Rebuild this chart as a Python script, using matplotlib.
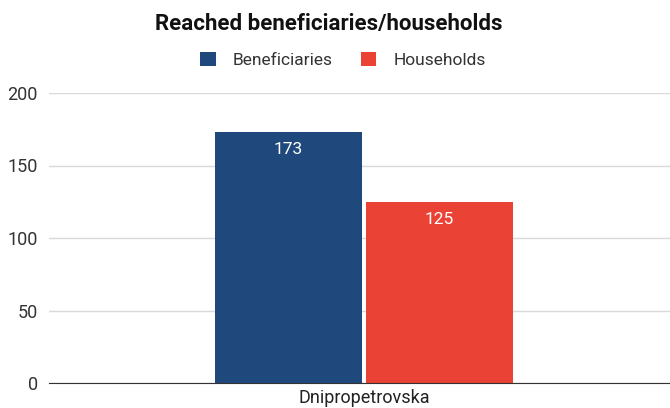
import numpy as np
import matplotlib
matplotlib.use("Agg")
import matplotlib.pyplot as plt

plt.rcParams['font.family'] = ['Roboto', 'DejaVu Sans']

# data
categories = ['Dnipropetrovska']
series_names = ['Beneficiaries', 'Households']
beneficiaries = [173]
households = [125]
colors = ['#1f487c', '#ea4335']

fig = plt.figure(figsize=(6.7, 4.08), dpi=100)
ax = fig.add_axes([49 / 670, 25 / 408, 621 / 670, 290 / 408])

w = 0.47
gap = 4 / 313.0
x = np.arange(len(categories))
b1 = ax.bar(x - w / 2 - gap / 2, beneficiaries, w, color=colors[0], label=series_names[0], zorder=3)
b2 = ax.bar(x + w / 2 + gap / 2, households, w, color=colors[1], label=series_names[1], zorder=3)

# value labels inside the bars
for bars in (b1, b2):
    for r in bars:
        ax.text(r.get_x() + r.get_width() / 2, r.get_height() - 7, f"{int(r.get_height())}",
                ha='center', va='top', color='white', fontsize=12.5, zorder=4)

ax.set_xlim(-1.007, 0.978)
ax.set_ylim(0, 200)
ax.set_yticks([0, 50, 100, 150, 200])
ax.set_xticks(x)
ax.set_xticklabels(categories, fontsize=13, color='#222222')
ax.tick_params(axis='y', length=0, labelsize=13, labelcolor='#333333', pad=8)
ax.tick_params(axis='x', length=0, pad=4)
ax.yaxis.grid(True, color='#d9d9d9', linewidth=1, zorder=0)
for s in ['top', 'right', 'left']:
    ax.spines[s].set_visible(False)
ax.spines['bottom'].set_color('#333333')
ax.spines['bottom'].set_zorder(5)

fig.text(329 / 670, 1 - 24 / 408, 'Reached beneficiaries/households', ha='center', va='center',
         fontsize=16, fontweight='bold', color='#111111')
fig.legend(handles=[b1, b2], labels=series_names, loc='center', bbox_to_anchor=(343 / 670, 1 - 60 / 408),
           ncol=2, frameon=False, fontsize=12.5, handlelength=0.9, handleheight=0.9,
           columnspacing=1.6, handletextpad=1.0, labelcolor='#333333')

fig.savefig('out.png', dpi=100)
